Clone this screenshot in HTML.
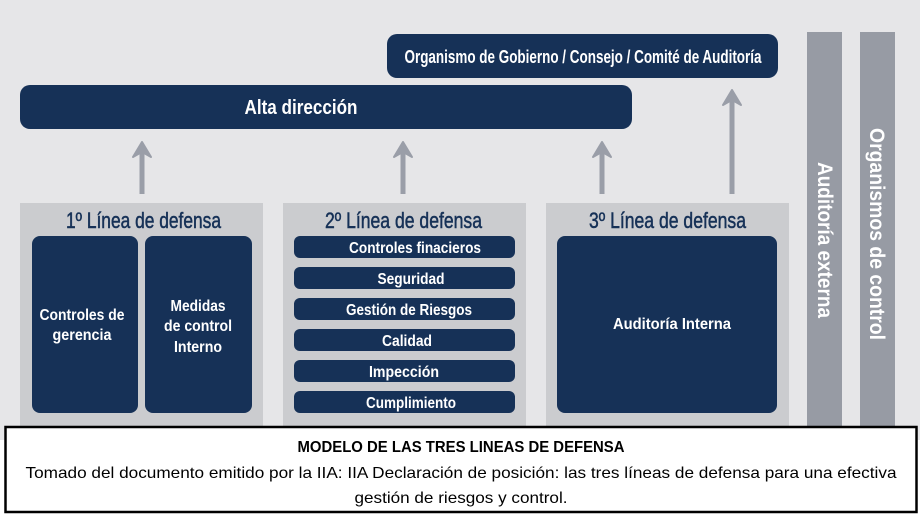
<!DOCTYPE html>
<html><head><meta charset="utf-8"><style>
html,body{margin:0;padding:0;background:#fff;}
svg{display:block;}
</style></head><body>
<svg width="920" height="523" viewBox="0 0 920 523" xmlns="http://www.w3.org/2000/svg" font-family="'Liberation Sans', sans-serif">
<rect x="0" y="0" width="920" height="440" fill="#e6e6e8"/>
<rect x="387" y="34" width="391" height="44" rx="10" fill="#163157"/>
<text x="583" y="63" font-size="18" font-weight="bold" fill="#fff" text-anchor="middle" textLength="357" lengthAdjust="spacingAndGlyphs">Organismo de Gobierno / Consejo / Comité de Auditoría</text>
<rect x="20" y="85" width="612" height="44" rx="10" fill="#163157"/>
<text x="301" y="114" font-size="20" font-weight="bold" fill="#fff" text-anchor="middle" textLength="113" lengthAdjust="spacingAndGlyphs">Alta dirección</text>
<g fill="#9a9ea8">
<rect x="139.5" y="150" width="5" height="44"/><path d="M142 142 L151 157 L144 153 L140 153 L133 157 Z" stroke="#9a9ea8" stroke-width="2" stroke-linejoin="round"/>
<rect x="400.5" y="150" width="5" height="44"/><path d="M403 142 L412 157 L405 153 L401 153 L394 157 Z" stroke="#9a9ea8" stroke-width="2" stroke-linejoin="round"/>
<rect x="599.5" y="150" width="5" height="44"/><path d="M602 142 L611 157 L604 153 L600 153 L593 157 Z" stroke="#9a9ea8" stroke-width="2" stroke-linejoin="round"/>
<rect x="729.5" y="98" width="5" height="96"/><path d="M732 90 L741 105 L734 101 L730 101 L723 105 Z" stroke="#9a9ea8" stroke-width="2" stroke-linejoin="round"/>
</g>
<rect x="20" y="203" width="243" height="237" fill="#cbcccf"/>
<rect x="283" y="203" width="243" height="237" fill="#cbcccf"/>
<rect x="546" y="203" width="243" height="237" fill="#cbcccf"/>
<g font-size="22" fill="#163157" text-anchor="middle" stroke="#163157" stroke-width="0.5">
<text x="143.5" y="228" textLength="155" lengthAdjust="spacingAndGlyphs">1º Línea de defensa</text>
<text x="403.5" y="228" textLength="157" lengthAdjust="spacingAndGlyphs">2º Línea de defensa</text>
<text x="667.5" y="228" textLength="157" lengthAdjust="spacingAndGlyphs">3º Línea de defensa</text>
</g>
<g fill="#163157">
<rect x="32" y="236" width="106" height="177" rx="8"/>
<rect x="145" y="236" width="107" height="177" rx="8"/>
<rect x="557" y="236" width="220" height="177" rx="8"/>
<rect x="294" y="236" width="221" height="22" rx="6"/>
<rect x="294" y="267" width="221" height="22" rx="6"/>
<rect x="294" y="298" width="221" height="22" rx="6"/>
<rect x="294" y="329" width="221" height="22" rx="6"/>
<rect x="294" y="360" width="221" height="22" rx="6"/>
<rect x="294" y="391" width="221" height="22" rx="6"/>
</g>
<g font-size="16" font-weight="bold" fill="#fff" text-anchor="middle">
<text x="415" y="253" textLength="132" lengthAdjust="spacingAndGlyphs">Controles finacieros</text>
<text x="411" y="284" textLength="67" lengthAdjust="spacingAndGlyphs">Seguridad</text>
<text x="409" y="315" textLength="126" lengthAdjust="spacingAndGlyphs">Gestión de Riesgos</text>
<text x="407" y="346" textLength="50" lengthAdjust="spacingAndGlyphs">Calidad</text>
<text x="404" y="377" textLength="70" lengthAdjust="spacingAndGlyphs">Impección</text>
<text x="411" y="408" textLength="90" lengthAdjust="spacingAndGlyphs">Cumplimiento</text>
<text x="82" y="320" textLength="85" lengthAdjust="spacingAndGlyphs">Controles de</text>
<text x="82" y="340" textLength="59" lengthAdjust="spacingAndGlyphs">gerencia</text>
<text x="198" y="311" textLength="55" lengthAdjust="spacingAndGlyphs">Medidas</text>
<text x="198" y="331" textLength="68" lengthAdjust="spacingAndGlyphs">de control</text>
<text x="198" y="352" textLength="48" lengthAdjust="spacingAndGlyphs">Interno</text>
<text x="672" y="329" textLength="118" lengthAdjust="spacingAndGlyphs">Auditoría Interna</text>
</g>
<rect x="807" y="32" width="35" height="408" fill="#979ba4"/>
<rect x="860" y="32" width="35" height="408" fill="#979ba4"/>
<g font-size="21" font-weight="bold" fill="#fff" text-anchor="middle">
<text transform="translate(818,240) rotate(90)" textLength="156" lengthAdjust="spacingAndGlyphs">Auditoría externa</text>
<text transform="translate(870,234) rotate(90)" textLength="212" lengthAdjust="spacingAndGlyphs">Organismos de control</text>
</g>
<rect x="5.5" y="427" width="911" height="85" fill="#fff" stroke="#000" stroke-width="2.5"/>
<g font-size="16" fill="#000" text-anchor="middle">
<text x="461" y="452" font-weight="bold" textLength="327" lengthAdjust="spacingAndGlyphs">MODELO DE LAS TRES LINEAS DE DEFENSA</text>
<text x="461" y="478" textLength="871" lengthAdjust="spacingAndGlyphs">Tomado del documento emitido por la IIA: IIA Declaración de posición: las tres líneas de defensa para una efectiva</text>
<text x="461" y="503" textLength="213" lengthAdjust="spacingAndGlyphs">gestión de riesgos y control.</text>
</g>
</svg>
</body></html>
